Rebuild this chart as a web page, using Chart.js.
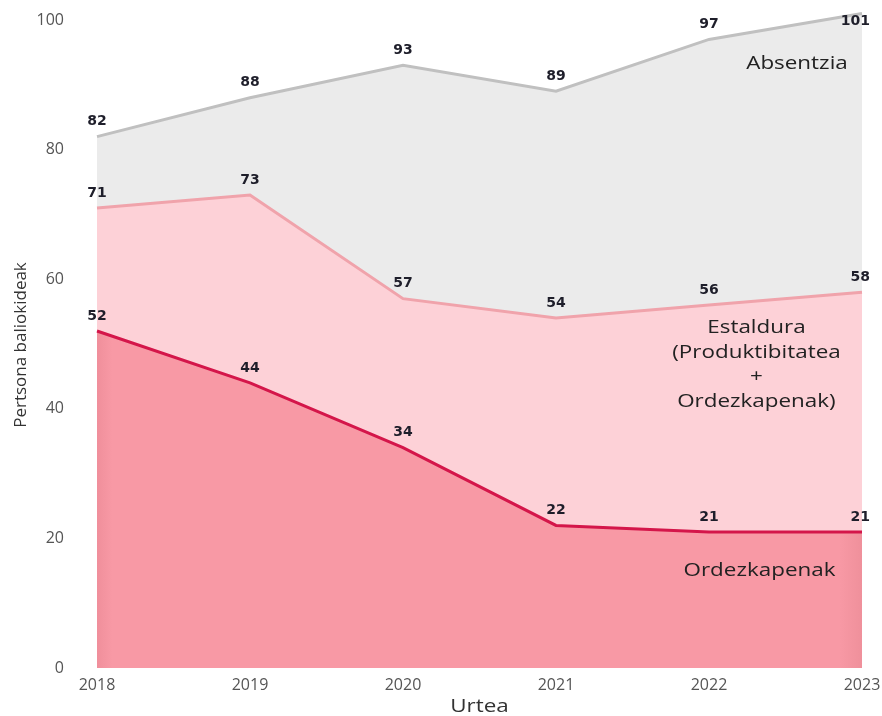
<!DOCTYPE html>
<html>
<head>
<meta charset="utf-8">
<script src="https://cdn.jsdelivr.net/npm/chart.js@4.4.0/dist/chart.umd.min.js"></script>
<style>
  html, body { margin: 0; padding: 0; background: #ffffff; }
  #wrap { width: 882px; height: 716px; }
</style>
</head>
<body>
<div id="wrap"><canvas id="c" width="882" height="716"></canvas></div>
<script>
// ---- data ----
const years = ['2018', '2019', '2020', '2021', '2022', '2023'];
const absentzia = [82, 88, 93, 89, 97, 101];
const estaldura = [71, 73, 57, 54, 56, 58];
const ordezkapenak = [52, 44, 34, 22, 21, 21];
const seriesNames = ['Ordezkapenak', 'Estaldura', 'Absentzia'];
const yTicks = [0, 20, 40, 60, 80, 100];
const xTitle = 'Urtea';
const yTitle = 'Pertsona baliokideak';
const areaNotes = [
  { lines: ['Absentzia'], xi: 4.575, y: 93.2 },
  { lines: ['Estaldura', '(Produktibitatea', '+', 'Ordezkapenak)'], xi: 4.31, y: 46.8 },
  { lines: ['Ordezkapenak'], xi: 4.33, y: 15 }
];

function redFill(ctx) {
  const ca = ctx.chart.chartArea;
  if (!ca) return '#f899a5';
  const g = ctx.chart.ctx.createLinearGradient(ca.left, 0, ca.right, 0);
  g.addColorStop(0, '#f08f9b');
  g.addColorStop(0.02, '#f899a5');
  g.addColorStop(0.97, '#f899a5');
  g.addColorStop(1, '#ef909b');
  return g;
}

function stretchedText(ctx, text, x, y, sx) {
  ctx.save();
  ctx.translate(x, y);
  ctx.scale(sx, 1);
  ctx.fillText(text, 0, 0);
  ctx.restore();
}

const valueLabels = {
  id: 'valueLabels',
  afterDatasetsDraw(chart) {
    const ctx = chart.ctx;
    ctx.save();
    ctx.font = 'bold 14px "DejaVu Sans", Verdana, sans-serif';
    ctx.fillStyle = '#1e1e2a';
    ctx.textAlign = 'center';
    ctx.textBaseline = 'middle';
    chart.data.datasets.forEach((ds, di) => {
      const meta = chart.getDatasetMeta(di);
      meta.data.forEach((pt, i) => {
        let x = pt.x;
        const t = String(ds.data[i]);
        const w = ctx.measureText(t).width;
        if (x + w / 2 > chart.width - 12) x = chart.width - 12 - w / 2;
        ctx.fillText(t, x, Math.max(pt.y - 15, 21));
      });
    });
    ctx.restore();
  }
};

const notes = {
  id: 'notes',
  afterDatasetsDraw(chart) {
    const ctx = chart.ctx;
    const xs = chart.scales.x, ys = chart.scales.y;
    ctx.save();
    ctx.font = '19px "Open Sans", "Noto Sans", sans-serif';
    ctx.fillStyle = '#222';
    ctx.textAlign = 'center';
    ctx.textBaseline = 'middle';
    const lh = 24.7;
    areaNotes.forEach(n => {
      const x0 = xs.getPixelForValue(0), x1 = xs.getPixelForValue(1);
      const x = x0 + (x1 - x0) * n.xi;
      const yc = ys.getPixelForValue(n.y);
      const start = yc - (n.lines.length - 1) * lh / 2;
      n.lines.forEach((l, k) => stretchedText(ctx, l, x, start + k * lh, 1.18));
    });
    // axis titles
    ctx.fillStyle = '#333';
    stretchedText(ctx, xTitle, (chart.chartArea.left + chart.chartArea.right) / 2, 707, 1.18);
    ctx.save();
    ctx.font = '17px "Open Sans", "Noto Sans", sans-serif';
    ctx.translate(21, 345);
    ctx.rotate(-Math.PI / 2);
    ctx.fillText(yTitle, 0, 0);
    ctx.restore();
    ctx.restore();
  }
};

new Chart(document.getElementById('c'), {
  type: 'line',
  data: {
    labels: years,
    datasets: [
      { label: seriesNames[0], data: ordezkapenak, borderColor: '#d4164a', borderWidth: 3,
        backgroundColor: redFill, fill: 'origin', pointRadius: 0, tension: 0 },
      { label: seriesNames[1], data: estaldura, borderColor: '#f0a3ab', borderWidth: 3,
        backgroundColor: '#fdd1d7', fill: 'origin', pointRadius: 0, tension: 0 },
      { label: seriesNames[2], data: absentzia, borderColor: '#c0c0c0', borderWidth: 3,
        backgroundColor: '#ebebeb', fill: 'origin', pointRadius: 0, tension: 0 }
    ]
  },
  options: {
    responsive: false,
    animation: false,
    layout: { padding: { top: 7, right: 20, left: 0, bottom: 0 } },
    plugins: { legend: { display: false }, tooltip: { enabled: false } },
    scales: {
      x: {
        offset: false,
        grid: { display: false },
        border: { display: false },
        ticks: { color: '#555', font: { family: '"Open Sans", "Noto Sans", sans-serif', size: 16 }, padding: 0, maxRotation: 0 },
        title: { display: false },
        afterFit(s) { s.height = 48; s.paddingLeft = 0; s.paddingRight = 0; }
      },
      y: {
        min: 0, max: 102,
        grid: { display: false },
        border: { display: false },
        afterBuildTicks(s) { s.ticks = yTicks.map(v => ({ value: v })); },
        ticks: { color: '#555', font: { family: '"Open Sans", "Noto Sans", sans-serif', size: 16 }, padding: 25 },
        title: { display: false },
        afterFit(s) { s.width = 97; s.paddingTop = 0; s.paddingBottom = 0; }
      }
    }
  },
  plugins: [valueLabels, notes]
});
</script>
</body>
</html>
